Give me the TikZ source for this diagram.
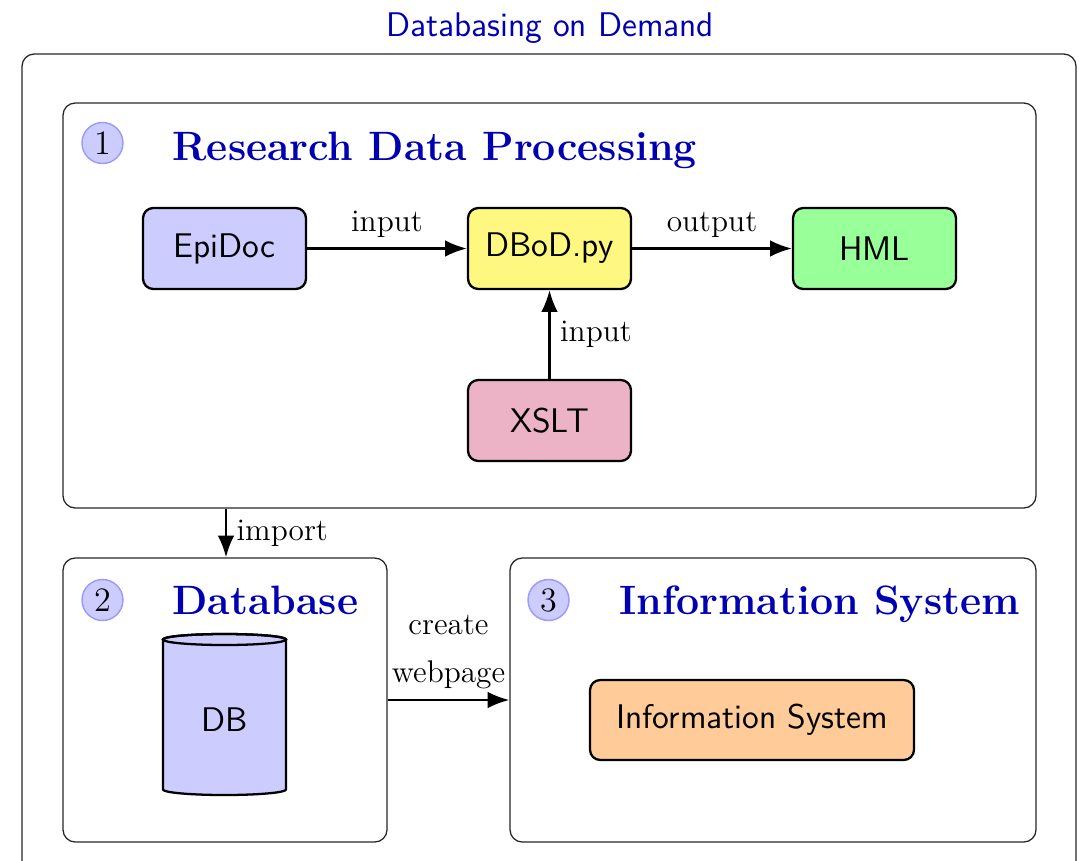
\documentclass[tikz,border=0pt]{standalone}
\usetikzlibrary{arrows.meta}
\definecolor{hdblue}{rgb}{0,0,0.7}
\def\u{0.351pt}
\begin{document}
\begin{tikzpicture}[x=0.351pt,y=-0.351pt,
  panel/.style={draw=black!85, line width=0.45pt, rounded corners=4.3pt, inner sep=0pt},
  proc/.style={draw, line width=0.8pt, rounded corners=3.6pt,
    minimum width=163*\u, minimum height=81*\u, inner sep=0pt,
    font=\sffamily\fontsize{12}{14}\selectfont},
  num/.style={circle, fill=blue!20, draw=blue!40, line width=0.5pt,
    minimum size=41*\u, inner sep=0pt, font=\fontsize{12}{14}\selectfont},
  heading/.style={anchor=base west, inner sep=0pt, text=hdblue,
    font=\bfseries\fontsize{14.4}{17}\selectfont},
  lbl/.style={font=\fontsize{11}{13}\selectfont},
  arr/.style={-{Latex[length=7.6pt,width=5.8pt]}, line width=0.85pt}]
\clip (0,0) rectangle (1079,860);
\useasboundingbox (0,0) rectangle (1079,860);

% title and outer frame
\node[anchor=base, inner sep=0pt, text=hdblue, font=\sffamily\fontsize{12}{14}\selectfont]
  (title) at (550,36) {Databasing on Demand};
\node[panel, minimum width=1054*\u, minimum height=846*\u] (outer) at (549,477) {};

% the three stages
\node[panel, minimum width=973*\u, minimum height=405*\u] (box1) at (549.5,305.5) {};
\node[panel, minimum width=324*\u, minimum height=284*\u] (box2) at (225,700) {};
\node[panel, minimum width=526*\u, minimum height=284*\u] (box3) at (773,700) {};

\node[num] (n1) at (102.5,143) {1};
\node[num] (n2) at (102.5,600) {2};
\node[num] (n3) at (548.5,600) {3};

\node[heading] (h1) at (172,160) {Research Data Processing};
\node[heading] (h2) at (172,614) {Database};
\node[heading] (h3) at (619,614) {Information System};

% stage 1: processing
\node[proc, fill=blue!20] (epidoc) at (224.5,248.5) {EpiDoc};
\node[proc, fill=yellow!50] (dbod) at (549.5,248.5) {DBoD.py};
\node[proc, fill=green!40] (hml) at (874.5,248.5) {HML};
\node[proc, fill=purple!30] (xslt) at (549.5,420.5) {XSLT};

\draw[arr] (epidoc) -- node[lbl, above] (l1) {input} (dbod);
\draw[arr] (dbod) -- node[lbl, above] (l2) {output} (hml);
\draw[arr] (xslt) -- node[lbl, right] (l3) {input} (dbod);

% stage 2: database
\filldraw[fill=blue!20, line width=0.8pt]
  (163,639.5) -- (163,789.5) arc[start angle=180, end angle=0, x radius=61.5, y radius=5.5]
  -- (286,639.5) arc[start angle=0, end angle=-180, x radius=61.5, y radius=5.5] -- cycle;
\draw[line width=0.8pt] (224.5,639.5) ellipse[x radius=61.5, y radius=5.5];
\node[font=\sffamily\fontsize{12}{14}\selectfont] (db) at (224.5,720) {DB};

% stage 3: information system
\node[proc, fill=orange!40, minimum width=324*\u, minimum height=80*\u] (info) at (752,720) {Information System};

% links between stages
\coordinate (impx) at (226,0);
\coordinate (weby) at (0,700);
\draw[arr] (box1.south -| impx) -- node[lbl, right] (l4) {import} (box2.north -| impx);
\draw[arr] (box2.east |- weby) -- node[lbl, above, align=center, font=\fontsize{11}{17}\selectfont] (l5) {create\\webpage} (box3.west |- weby);
\end{tikzpicture}
\end{document}
